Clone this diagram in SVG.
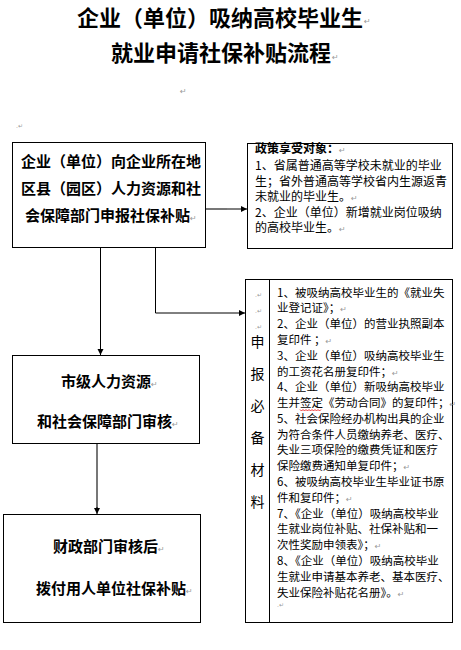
<svg xmlns="http://www.w3.org/2000/svg" width="461" height="650" viewBox="0 0 461 650">
<style>
  text { font-family: "Noto Sans CJK SC", "Noto Sans CJK JP", sans-serif; fill: #000; }
  .title { font-size: 22px; font-weight: bold; }
  .nb { font-size: 15px; font-weight: bold; }
  .s { font-size: 12px; }
  .m { font-size: 11.5px; }
  .col { font-size: 14px; text-anchor: middle; }
  .pm { font-family: "DejaVu Sans", sans-serif; font-size: 8px; fill: #999; font-weight: normal; }
  .box { fill: #fff; stroke: #000; stroke-width: 1; }
  .edge { fill: none; stroke: #000; stroke-width: 1; }
  .edge-grey { fill: none; stroke: #777; stroke-width: 2; }
</style>
<defs>
  <marker id="arrow" markerWidth="7" markerHeight="7" refX="6" refY="3.5" orient="auto" markerUnits="userSpaceOnUse">
    <path d="M0,0.5 L6,3.5 L0,6.5 Z" fill="#000"/>
  </marker>
</defs>
<rect width="461" height="650" fill="#fff"/>

<g id="title">
  <text class="title" x="220" y="25.5" text-anchor="middle">企业（单位）吸纳高校毕业生</text>
  <text class="pm" x="364" y="24">↵</text>
  <text class="title" x="221" y="60.5" text-anchor="middle">就业申请社保补贴流程</text>
  <text class="pm" x="332" y="60">↵</text>
  <text class="pm" x="180" y="94">↵</text>
  <text class="pm" x="16" y="128" style="font-size:6px">.↵</text>
</g>

<g id="node-apply">
  <rect class="box" x="12.5" y="142.5" width="193" height="105"/>
  <text class="nb" x="21" y="167">企业（单位）向企业所在地</text>
  <text class="nb" x="21" y="194">区县（园区）人力资源和社</text>
  <text class="nb" x="25" y="221">会保障部门申报社保补贴<tspan class="pm">↵</tspan></text>
</g>

<g id="node-policy">
  <rect class="box" x="247.5" y="143.5" width="205" height="105"/>
  <text class="s" x="255" y="153" font-weight="bold">政策享受对象：<tspan class="pm">↵</tspan></text>
  <text class="s" x="255" y="170">1、省属普通高等学校未就业的毕业</text>
  <text class="s" x="255" y="185.5">生；省外普通高等学校省内生源返青</text>
  <text class="s" x="255" y="201">未就业的毕业生。<tspan class="pm">↵</tspan></text>
  <text class="s" x="255" y="216.5">2、企业（单位）新增就业岗位吸纳</text>
  <text class="s" x="255" y="232">的高校毕业生。<tspan class="pm">↵</tspan></text>
</g>

<g id="node-materials">
  <rect class="box" x="245.5" y="279.5" width="207" height="343"/>
  <line x1="269.5" y1="279.5" x2="269.5" y2="622.5" stroke="#000" stroke-width="1"/>
  <text class="pm" x="255" y="297" style="font-size:6px">.↵</text>
  <text class="pm" x="255" y="313" style="font-size:6px">.↵</text>
  <text class="pm" x="255" y="329" style="font-size:6px">.↵</text>
  <text class="col" x="257.5" y="347">申</text>
  <text class="col" x="257.5" y="379">报</text>
  <text class="col" x="257.5" y="411">必</text>
  <text class="col" x="257.5" y="443">备</text>
  <text class="col" x="257.5" y="475">材</text>
  <text class="col" x="257.5" y="507">料</text>
  <text class="m" x="277" y="296.5">1、被吸纳高校毕业生的《就业失</text>
  <text class="m" x="277" y="312.3">业登记证》；<tspan class="pm">↵</tspan></text>
  <text class="m" x="277" y="328.1">2、企业（单位）的营业执照副本</text>
  <text class="m" x="277" y="343.9">复印件 ；<tspan class="pm">↵</tspan></text>
  <text class="m" x="277" y="359.7">3、企业（单位）吸纳高校毕业生</text>
  <text class="m" x="277" y="375.5">的工资花名册复印件；<tspan class="pm">↵</tspan></text>
  <text class="m" x="277" y="391.2">4、企业（单位）新吸纳高校毕业</text>
  <text class="m" x="277" y="407">生并签定《劳动合同》的复印件；<tspan class="pm">↵</tspan></text>
  <path d="M300,409.5 l1.5,1.5 l1.5,-1.5 l1.5,1.5 l1.5,-1.5 l1.5,1.5 l1.5,-1.5 l1.5,1.5 l1.5,-1.5 l1.5,1.5 l1.5,-1.5 l1.5,1.5 l1.5,-1.5 l1.5,1.5 l1.5,-1.5" fill="none" stroke="#e00" stroke-width="0.8"/>
  <text class="m" x="277" y="422.8">5、社会保险经办机构出具的企业</text>
  <text class="m" x="277" y="438.6">为符合条件人员缴纳养老、医疗、</text>
  <text class="m" x="277" y="454.4">失业三项保险的缴费凭证和医疗</text>
  <text class="m" x="277" y="470.2">保险缴费通知单复印件；<tspan class="pm">↵</tspan></text>
  <text class="m" x="277" y="486">6、被吸纳高校毕业生毕业证书原</text>
  <text class="m" x="277" y="501.8">件和复印件；<tspan class="pm">↵</tspan></text>
  <text class="m" x="277" y="517.6">7、《企业（单位）吸纳高校毕业</text>
  <text class="m" x="277" y="533.4">生就业岗位补贴、社保补贴和一</text>
  <text class="m" x="277" y="549.2">次性奖励申领表》；<tspan class="pm">↵</tspan></text>
  <text class="m" x="277" y="565">8、《企业（单位）吸纳高校毕业</text>
  <text class="m" x="277" y="580.8">生就业申请基本养老、基本医疗、</text>
  <text class="m" x="277" y="596.5">失业保险补贴花名册》。<tspan class="pm">↵</tspan></text>
  <text class="pm" x="277" y="607" style="font-size:6px">.↵</text>
</g>

<g id="node-city-review">
  <rect class="box" x="12.5" y="355.5" width="187" height="88"/>
  <text class="nb" x="61" y="387">市级人力资源<tspan class="pm">↵</tspan></text>
  <text class="nb" x="37" y="427">和社会保障部门审核<tspan class="pm">↵</tspan></text>
</g>

<g id="node-finance">
  <rect class="box" x="3.5" y="514.5" width="197" height="108"/>
  <text class="nb" x="53" y="552">财政部门审核后<tspan class="pm">↵</tspan></text>
  <text class="nb" x="36" y="594">拨付用人单位社保补贴<tspan class="pm">↵</tspan></text>
</g>

<g id="connectors">
  <line class="edge-grey" x1="206" y1="209" x2="227" y2="209"/>
  <line class="edge" x1="227" y1="209" x2="247" y2="209" marker-end="url(#arrow)"/>
  <line class="edge" x1="100.5" y1="248" x2="100.5" y2="355" marker-end="url(#arrow)"/>
  <polyline class="edge" points="155.5,248 155.5,313 245,313" marker-end="url(#arrow)"/>
  <line class="edge-grey" x1="97" y1="444" x2="97" y2="508"/>
  <line class="edge" x1="97" y1="507" x2="97" y2="514" marker-end="url(#arrow)"/>
</g>
</svg>
